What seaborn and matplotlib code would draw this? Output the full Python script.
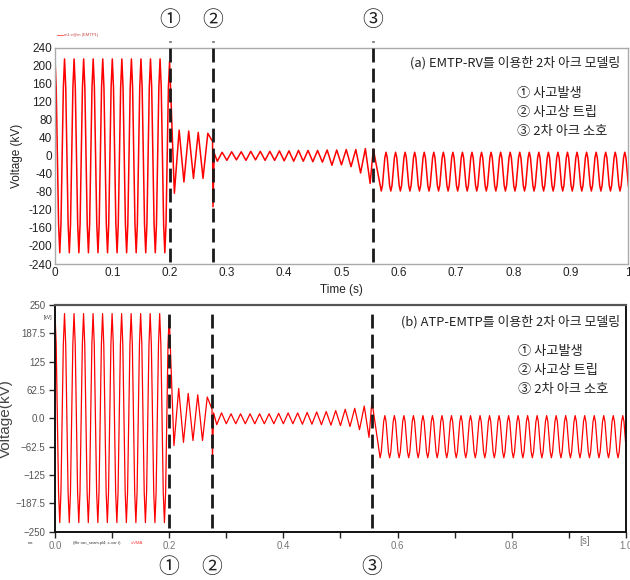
import numpy as np
import pandas as pd
import matplotlib
matplotlib.use("Agg")
import matplotlib.pyplot as plt
import matplotlib.transforms as mtransforms
import seaborn as sns

# ---------------- data ----------------
HALF = 1 / 120.0          # half-cycle of the 60 Hz waveform (s)
EIGHTH = 1 / 480.0        # eighth of a cycle (sampling of the steady parts)

# (a) EMTP-RV  (kV)
TOP_PRE_START = 0.0
TOP_PRE_CYCLE = [215, 152, 0, -152, -215, -152, 0, 152]   # one cycle
TOP_PRE_CYCLES = 12
TOP_PRE_LAST = [210]
TOP_FAULT_START = 0.2 + HALF
TOP_FAULT = [-83, 57, -58, 55, -50, 52, -50, 50, 32]
TOP_TRIP_T = [0.2757, 0.2778]
TOP_TRIP_V = [-113, 6]
TOP_ARC_START = 0.2833
TOP_ARC = [-12, 8, -10, 9, -9, 9, -10, 10, -9, 10, -10, 10, -10, 11, -11, 11,
           -12, 12, -12, 12, -13, 12, -14, 13, -21, 13, -20, 14, -24, 14, -38, 16, -61]
TOP_EXT_T = [0.5555]
TOP_EXT_V = [15]
TOP_POST_START = 0.5694
TOP_POST_CYCLE = [-78, -66, -35, -4, 8, -4, -35, -66]
TOP_POST_CYCLES = 26
TOP_POST_LAST = [-78]

# (b) ATP-EMTP  (kV)
BOT_PRE_START = 0.0
BOT_PRE_CYCLE = [231, 163, 0, -163, -230, -163, 0, 163]
BOT_PRE_CYCLES = 12
BOT_PRE_LAST = [225]
BOT_FAULT_START = 0.2 + HALF
BOT_FAULT = [-60, 66, -53, 55, -49, 52, -49, 47, 20]
BOT_TRIP_T = [0.2757, 0.2778]
BOT_TRIP_V = [-93, 12]
BOT_ARC_START = 0.2833
BOT_ARC = [-14, 12, -12, 10, -12, 10, -12, 10, -12, 10, -12, 10, -12, 11, -12, 12,
           -12, 12, -13, 13, -13, 14, -14, 15, -15, 17, -16, 20, -18, 22, -25, 27, -42]
BOT_EXT_T = [0.5550]
BOT_EXT_V = [38]
BOT_POST_START = 0.5694
BOT_POST_CYCLE = [-87, -74, -40, -7, 6, -7, -40, -74]
BOT_POST_CYCLES = 26
BOT_POST_LAST = [-87]

EVENT_T = [0.2, 0.275, 0.555]
EVENT_MARKS = ["①", "②", "③"]

TOP_TITLE = "(a) EMTP-RV를 이용한 2차 아크 모델링"
BOT_TITLE = "(b) ATP-EMTP를 이용한 2차 아크 모델링"
NOTES = ["① 사고발생", "② 사고상 트립", "③ 2차 아크 소호"]

TOP_YTICKS = list(range(-240, 241, 40))
TOP_XTICKS = [0, 0.1, 0.2, 0.3, 0.4, 0.5, 0.6, 0.7, 0.8, 0.9, 1.0]
TOP_XTICKLABELS = ["0", "0.1", "0.2", "0.3", "0.4", "0.5", "0.6", "0.7", "0.8", "0.9", "1"]
BOT_YTICKS = [-250, -187.5, -125, -62.5, 0, 62.5, 125, 187.5, 250]
BOT_YTICKLABELS = ["\u2212250", "\u2212187.5", "\u2212125", "\u221262.5", "0.0",
                   "62.5", "125", "187.5", "250"]
BOT_XTICKS = [0.0, 0.2, 0.4, 0.6, 0.8, 1.0]
BOT_XTICKLABELS = ["0.0", "0.2", "0.4", "0.6", "0.8", "1.0"]
BOT_XMINOR = [0.1, 0.3, 0.5, 0.7, 0.9]


def grid(start, values, step):
    return start + np.arange(len(values)) * step


def build(pre_s, pre_cycle, n_pre, pre_last, f_s, fault, trip_t, trip_v, a_s, arc,
          ext_t, ext_v, p_s, post_cycle, n_post, post_last):
    pre = list(pre_cycle) * n_pre + list(pre_last)
    post = list(post_cycle) * n_post + list(post_last)
    t = np.concatenate([grid(pre_s, pre, EIGHTH), grid(f_s, fault, HALF), trip_t,
                        grid(a_s, arc, HALF), ext_t, grid(p_s, post, EIGHTH)])
    v = np.concatenate([pre, fault, trip_v, arc, ext_v, post]).astype(float)
    return pd.DataFrame({"t": t, "v": v})


df_top = build(TOP_PRE_START, TOP_PRE_CYCLE, TOP_PRE_CYCLES, TOP_PRE_LAST,
               TOP_FAULT_START, TOP_FAULT, TOP_TRIP_T, TOP_TRIP_V,
               TOP_ARC_START, TOP_ARC, TOP_EXT_T, TOP_EXT_V,
               TOP_POST_START, TOP_POST_CYCLE, TOP_POST_CYCLES, TOP_POST_LAST)
df_bot = build(BOT_PRE_START, BOT_PRE_CYCLE, BOT_PRE_CYCLES, BOT_PRE_LAST,
               BOT_FAULT_START, BOT_FAULT, BOT_TRIP_T, BOT_TRIP_V,
               BOT_ARC_START, BOT_ARC, BOT_EXT_T, BOT_EXT_V,
               BOT_POST_START, BOT_POST_CYCLE, BOT_POST_CYCLES, BOT_POST_LAST)

# ---------------- style ----------------
sns.set_style("white")
plt.rcParams["font.family"] = ["Liberation Sans", "Noto Sans CJK KR", "DejaVu Sans"]
plt.rcParams["axes.unicode_minus"] = False
KR = ["Noto Sans CJK KR", "DejaVu Sans"]

fig = plt.figure(figsize=(6.3, 5.8), dpi=100)
ax1 = fig.add_axes([0.0873, 0.5448, 0.9095, 0.373])
ax2 = fig.add_axes([0.0873, 0.0833, 0.9063, 0.3909])

# ---------------- top panel ----------------
sns.lineplot(data=df_top, x="t", y="v", ax=ax1, color="#ff0000", lw=1.1,
             estimator=None, sort=False, legend=False)
ax1.set_xlim(0, 1)
ax1.set_ylim(-240, 240)
ax1.set_yticks(TOP_YTICKS)
ax1.set_yticklabels([str(v) for v in TOP_YTICKS])
ax1.set_xticks(TOP_XTICKS)
ax1.set_xticklabels(TOP_XTICKLABELS)
ax1.tick_params(length=0, labelsize=8.5, labelcolor="#222", pad=2)
for s in ax1.spines.values():
    s.set_color("#aaaaaa")
    s.set_linewidth(1.0)
ax1.set_xlabel("Time (s)", fontsize=8.5, color="#222", labelpad=4)
ax1.set_ylabel("Voltage (kV)", fontsize=8.5, color="#222", labelpad=4)
for t in EVENT_T:
    ax1.axvline(t, ymin=0.01, ymax=1.03, color="#1a1a1a", lw=2, dashes=(5, 2.2),
                clip_on=False, zorder=4)
ax1.text(0.986, 0.929, TOP_TITLE, transform=ax1.transAxes, ha="right", va="center",
         fontsize=9.3, family=KR, color="#222")
for i, note in enumerate(NOTES):
    ax1.text(0.806, 0.79 - i * 0.088, note, transform=ax1.transAxes, ha="left",
             va="center", fontsize=9.5, family=KR, color="#222")
# tiny legend of the simulator
fig.lines.append(plt.Line2D([57 / 630, 63 / 630], [1 - 35 / 580] * 2,
                            transform=fig.transFigure, color="#ff6666", lw=0.8))
fig.text(64 / 630, 1 - 35 / 580, "m1:v@m (EMTP1)", fontsize=3, color="#cc4444",
         va="center")

# ---------------- bottom panel ----------------
sns.lineplot(data=df_bot, x="t", y="v", ax=ax2, color="#ff0000", lw=0.9,
             estimator=None, sort=False, legend=False)
ax2.set_xlim(0, 1)
ax2.set_ylim(-250, 250)
ax2.set_yticks(BOT_YTICKS)
ax2.set_yticklabels(BOT_YTICKLABELS)
ax2.set_xticks(BOT_XTICKS)
ax2.set_xticklabels(BOT_XTICKLABELS)
ax2.set_xticks(BOT_XMINOR, minor=True)
ax2.tick_params(axis="y", length=4, width=1, color="#222", labelsize=7,
                labelcolor="#555", pad=3, direction="out", left=True)
ax2.tick_params(axis="x", which="both", length=4, width=1, color="#222", labelsize=7,
                labelcolor="#777", pad=3, direction="out", bottom=True)
ax2.spines["top"].set_color("#555")
ax2.spines["top"].set_linewidth(1.6)
for k in ["left", "bottom", "right"]:
    ax2.spines[k].set_color("#111")
    ax2.spines[k].set_linewidth(1.4)
ax2.set_xlabel("")
ax2.set_ylabel("Voltage(kV)", fontsize=11, color="#444", labelpad=2)
for t in EVENT_T:
    ax2.axvline(t, ymin=0.016, ymax=0.987, color="#1a1a1a", lw=2, dashes=(5, 2.2),
                zorder=4)
ax2.text(0.989, 0.925, BOT_TITLE, transform=ax2.transAxes, ha="right", va="center",
         fontsize=9.3, family=KR, color="#222")
for i, note in enumerate(NOTES):
    ax2.text(0.811, 0.793 - i * 0.084, note, transform=ax2.transAxes, ha="left",
             va="center", fontsize=9.5, family=KR, color="#222")
fig.text(44 / 630, 1 - 317 / 580, "[kV]", fontsize=3.5, color="#333", va="center")
fig.text(585 / 630, 1 - 541 / 580, "[s]", fontsize=7, color="#777", va="center",
         ha="center")
fig.text(28 / 630, 1 - 543 / 580, "ms", fontsize=3, color="#333", va="center")
fig.text(73 / 630, 1 - 543 / 580, "(file run_seam.pl4; x-var t)", fontsize=3,
         color="#333", va="center")
fig.text(131 / 630, 1 - 543 / 580, "v:VMA", fontsize=3, color="#ff3333", va="center")

# ---------------- event markers above / below ----------------
tr_top = mtransforms.blended_transform_factory(ax1.transData, fig.transFigure)
tr_bot = mtransforms.blended_transform_factory(ax2.transData, fig.transFigure)
for t, m in zip(EVENT_T, EVENT_MARKS):
    ax1.text(t, 1 - 20 / 580, m, transform=tr_top, ha="center", va="center",
             fontsize=15, family=KR, color="#222")
    ax2.text(t, 1 - 567 / 580, m, transform=tr_bot, ha="center", va="center",
             fontsize=15, family=KR, color="#222")

fig.savefig("out.png", dpi=100)
